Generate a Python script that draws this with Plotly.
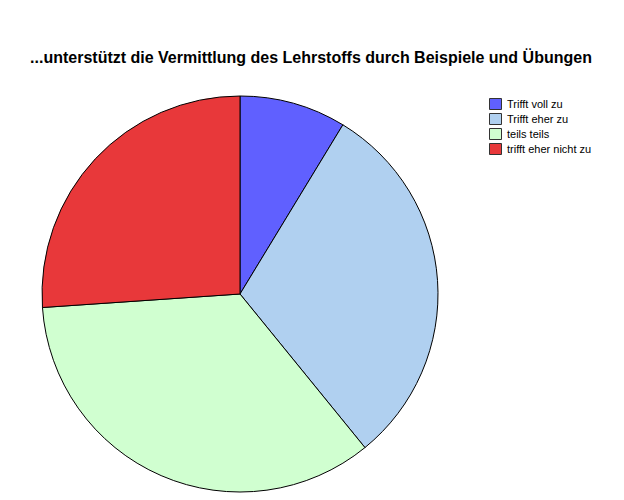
import plotly.graph_objects as go

labels = ["Trifft voll zu", "Trifft eher zu", "teils teils", "trifft eher nicht zu"]
values = [2, 7, 8, 6]
colors = ["#6060FF", "#B0D0F0", "#D0FFD0", "#E8383A"]
title = "...unterstützt die Vermittlung des Lehrstoffs durch Beispiele und Übungen"

W, H = 624, 500
fig = go.Figure(go.Pie(
    labels=labels, values=values, sort=False, direction="clockwise", rotation=0,
    marker=dict(colors=colors, line=dict(color="#000000", width=1)),
    textinfo="none", hoverinfo="label+percent",
    domain=dict(x=[42 / W, 438 / W], y=[1 - 492 / H, 1 - 96 / H]),
    showlegend=False,
))

# manual legend (compact, as in the reference)
shapes, annos = [], []
x0, x1, y_top, step, sw = 489.5, 501.5, 98.5, 15, 11
for i, (lab, col) in enumerate(zip(labels, colors)):
    yt = y_top + i * step
    shapes.append(dict(type="rect", xref="paper", yref="paper",
                       x0=x0 / W, x1=x1 / W, y0=1 - yt / H, y1=1 - (yt + sw) / H,
                       fillcolor=col, line=dict(color="#333333", width=1)))
    annos.append(dict(text=lab, xref="paper", yref="paper", x=505 / W, y=1 - (yt + sw / 2) / H,
                      xanchor="left", yanchor="middle", showarrow=False,
                      font=dict(family="Liberation Sans, Arial", size=11, color="black")))

fig.update_layout(
    width=W, height=H, autosize=False,
    margin=dict(l=0, r=0, t=0, b=0),
    paper_bgcolor="white", plot_bgcolor="white",
    title=dict(text="<b>" + title + "</b>", x=311 / W, xanchor="center", y=1 - 57 / H, yanchor="middle",
               font=dict(family="Liberation Sans, Arial", size=16, color="black")),
    shapes=shapes, annotations=annos,
    showlegend=False,
)
fig.write_html("out.html")
